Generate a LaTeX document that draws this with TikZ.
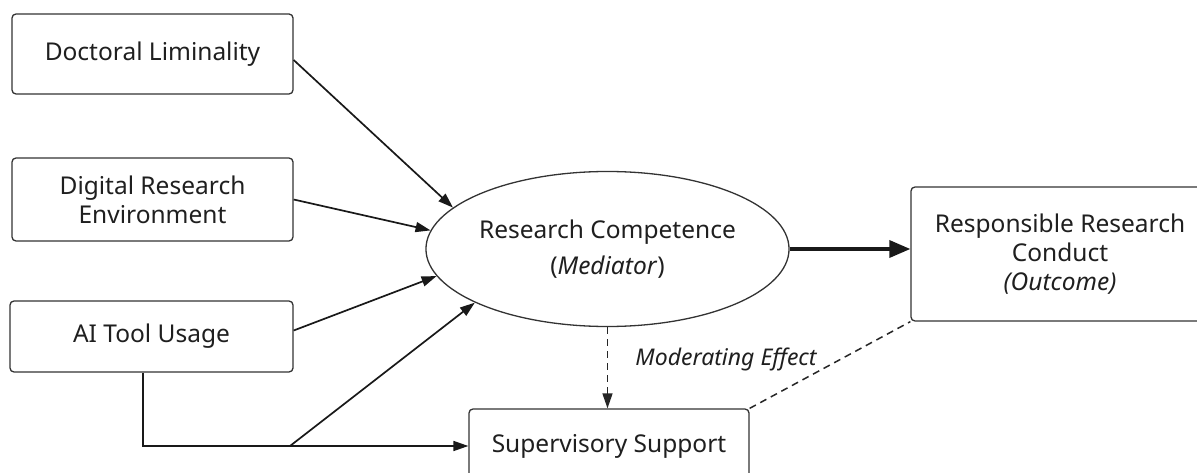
\documentclass[tikz,border=0pt]{standalone}
\usepackage{fontspec}
\setmainfont{Noto Sans}
\usetikzlibrary{arrows.meta,calc,shapes.geometric}
\begin{document}
\begin{tikzpicture}[x=1pt,y=-1pt,
  every node/.style={text=black!88, font=\fontsize{24.5}{29}\selectfont},
  box/.style={draw=black!80, line width=1.3pt, rounded corners=4pt, align=center, inner sep=0pt},
  link/.style={draw=black!90, line width=1.7pt, -{Triangle[length=15pt,width=10pt]}},
  mainlink/.style={draw=black!90, line width=3.5pt, -{Triangle[length=21pt,width=17pt]}},
  dashlink/.style={draw=black!85, line width=1.5pt, dash pattern=on 7pt off 5pt},
]
\useasboundingbox (0,0) rectangle (1197,473);
\clip (0,0) rectangle (1197,473);
\fill[white] (0,0) rectangle (1197,473);

\node[box, minimum width=281pt, minimum height=80pt] (dl) at (152.5,54) {Doctoral Liminality};
\node[box, minimum width=281pt, minimum height=83pt] (dre) at (152.5,199.5) {Digital Research\\Environment};
\node[box, minimum width=283pt, minimum height=71pt] (ai) at (151.5,336.5) {AI Tool Usage};
\node[ellipse, draw=black!80, line width=1.3pt, minimum width=351pt, minimum height=155pt, align=center, inner sep=0pt] (rc) at (607.5,249) {Research Competence\\[7pt](\textit{Mediator})};
\node[box, minimum width=298pt, minimum height=134pt] (rrc) at (1060,254) {Responsible Research\\Conduct\\\textit{(Outcome)}};
\node[box, minimum width=280pt, minimum height=74pt] (ss) at (609,446) {Supervisory Support};
\node[font=\fontsize{23}{27}\selectfont\itshape] (mod) at (726,359) {Moderating Effect};

\coordinate (corner) at (143,446);
\coordinate (branch) at (290,446);

\draw[link] ($(dl.east)+(0,6)$) -- (rc.165);
\draw[link] (dre.east) -- (rc.174);
\draw[link] ($(ai.east)+(0,-6)$) -- (rc.189);
\draw[line width=1.7pt, draw=black!90] (ai.south -| corner) -- (corner) -- (branch);
\draw[link] (branch) -- (ss.west);
\draw[link] (branch) -- (rc.202);
\draw[mainlink] (rc.east) -- (rc.east -| rrc.west);
\draw[dashlink, -{Triangle[length=15pt,width=10pt]}] (rc.south) -- (rc.south |- ss.north);
\draw[dashlink] (ss.north east) -- (rrc.south west);
\end{tikzpicture}
\end{document}
